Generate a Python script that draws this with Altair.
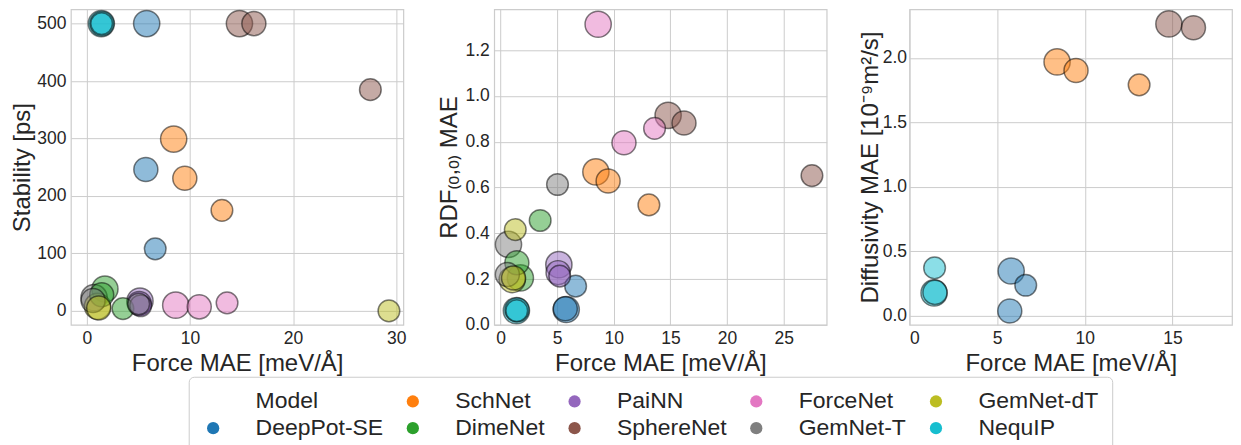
import altair as alt
import pandas as pd

# ---- data ----
models = [
    "DeepPot-SE", "DeepPot-SE", "DeepPot-SE",
    "SchNet", "SchNet", "SchNet",
    "DimeNet", "DimeNet", "DimeNet",
    "PaiNN", "PaiNN", "PaiNN",
    "SphereNet", "SphereNet", "SphereNet",
    "ForceNet", "ForceNet", "ForceNet",
    "GemNet-T", "GemNet-T", "GemNet-T",
    "GemNet-dT", "GemNet-dT", "GemNet-dT", "GemNet-dT",
    "NequIP", "NequIP", "NequIP",
]
sizes = [
    "large", "medium", "small",
    "large", "medium", "small",
    "large", "medium", "small",
    "large", "medium", "small",
    "large", "medium", "small",
    "large", "medium", "small",
    "large", "medium", "small",
    "large", "medium", "small", "small",
    "large", "medium", "small",
]
force = [
    5.80, 5.72, 6.63,
    8.42, 9.50, 13.10,
    1.75, 1.44, 3.50,
    5.15, 5.08, 5.22,
    14.80, 16.20, 27.50,
    8.62, 10.90, 13.60,
    0.70, 0.60, 5.03,
    1.03, 1.15, 1.30, 29.30,
    1.40, 1.45, 1.43,
]
stability = [
    500, 246, 108,
    299, 231, 175,
    38, 28, 4,
    17, 13, 9,
    500, 500, 385,
    10, 7, 14,
    23, 18, 12,
    8, 5, None, 0,
    500, 500, 500,
]
rdf = [
    0.067, 0.070, 0.169,
    0.668, 0.628, 0.524,
    0.205, 0.271, 0.456,
    0.263, 0.228, 0.213,
    0.915, 0.882, 0.652,
    1.313, 0.795, 0.858,
    0.351, 0.220, 0.613,
    0.198, 0.205, 0.416, None,
    0.062, 0.065, 0.062,
]
diffusivity = [
    0.346, 0.036, 0.235,
    1.969, 1.902, 1.791,
    None, None, None,
    None, None, None,
    2.264, 2.235, None,
    None, None, None,
    None, None, None,
    None, None, None, None,
    0.176, 0.180, 0.370,
]

legend_order = ["Model", "SchNet", "PaiNN", "ForceNet", "GemNet-dT",
                "DeepPot-SE", "DimeNet", "SphereNet", "GemNet-T", "NequIP"]
legend_colors = ["#ffffff", "#ff7f0e", "#9467bd", "#e377c2", "#bcbd22",
                 "#1f77b4", "#2ca02c", "#8c564b", "#7f7f7f", "#17becf"]
size_levels = ["large", "medium", "small"]
size_areas = [690, 470, 205]

df = pd.DataFrame({
    "Model": models, "Size": sizes, "Force": force,
    "Stability": stability, "RDF": rdf, "Diffusivity": diffusivity,
})
df["rank"] = df["Size"].map({"large": 0, "medium": 1, "small": 2})
df = df.sort_values("rank", kind="stable").drop(columns="rank")

FONT = "Liberation Sans"
TXT = "#262626"

color = alt.Color(
    "Model:N",
    scale=alt.Scale(domain=legend_order, range=legend_colors),
    legend=alt.Legend(
        title=None, orient="none", legendX=118, legendY=368,
        direction="horizontal", columns=5,
        symbolType="circle", symbolSize=150, symbolStrokeWidth=0, symbolOpacity=1,
        labelFontSize=23, labelFont=FONT, labelColor=TXT, labelLimit=300,
        padding=13, strokeColor="#cccccc", cornerRadius=5, fillColor="white",
        labelOffset=31, columnPadding=18, rowPadding=3,
    ),
)
size = alt.Size("Size:N", scale=alt.Scale(domain=size_levels, range=size_areas), legend=None)


def panel(field, ytitle, xdom, xticks, ydom, yticks, yfmt, w=333, tpad=4, lpad=5):
    return (
        alt.Chart(df)
        .transform_filter(f"isValid(datum['{field}'])")
        .mark_circle(opacity=1, fillOpacity=0.5, stroke="black", strokeOpacity=0.5,
                     strokeWidth=1.5, clip=True)
        .encode(
            x=alt.X("Force:Q", title="Force MAE [meV/Å]",
                    scale=alt.Scale(domain=xdom, nice=False, zero=False),
                    axis=alt.Axis(values=xticks)),
            y=alt.Y(f"{field}:Q", title=ytitle,
                    scale=alt.Scale(domain=ydom, nice=False, zero=False),
                    axis=alt.Axis(values=yticks, format=yfmt, titlePadding=tpad,
                                  labelPadding=lpad)),
            color=color,
            size=size,
        )
        .properties(width=w, height=316)
    )


left = panel("Stability", "Stability [ps]", [-1.55, 30.7], [0, 10, 20, 30],
             [-24.3, 524.8], [0, 100, 200, 300, 400, 500], "d", tpad=2)
mid = panel("RDF", "RDF₍ₒ,ₒ₎ MAE", [-0.56, 28.8], [0, 5, 10, 15, 20, 25],
            [0, 1.378], [0.0, 0.2, 0.4, 0.6, 0.8, 1.0, 1.2], ".1f", tpad=3)
right = panel("Diffusivity", "Diffusivity MAE [10⁻⁹m²/s]", [0, 18.4], [0, 5, 10, 15],
              [-0.072, 2.377], [0.0, 0.5, 1.0, 1.5, 2.0], ".1f", w=323, tpad=0, lpad=3)

chart = (
    alt.hconcat(left, mid, right, spacing=30)
    .properties(padding={"left": 2, "top": 0, "right": 0, "bottom": 0})
    .configure_axis(
        labelFont=FONT, labelFontSize=17.5, labelColor=TXT,
        titleFont=FONT, titleFontSize=24, titleFontWeight="normal", titleColor=TXT,
        gridColor="#cccccc", gridWidth=1, domain=False, ticks=False,
        labelPadding=5,
    )
    .configure_view(stroke="#cccccc", strokeWidth=1.2)
)

chart.save("out.html", embed_options={"renderer": "svg", "actions": False})
